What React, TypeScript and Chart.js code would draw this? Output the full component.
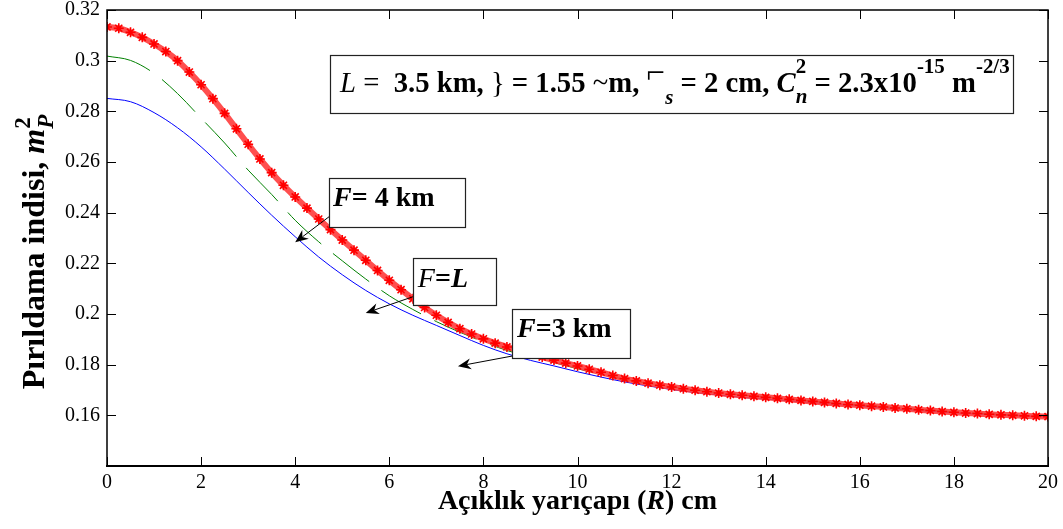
import React, { useEffect, useRef } from 'react';
import { Chart, registerables } from 'chart.js';

Chart.register(...registerables);

const SERIF = '"Liberation Serif", "Times New Roman", serif';

// x positions (cm)
const redX = [
  0, 0.25, 0.5, 0.75, 1, 1.25, 1.5, 1.75, 2, 2.25, 2.5, 2.75, 3, 3.25, 3.5, 3.75,
  4, 4.25, 4.5, 4.75, 5, 5.25, 5.5, 5.75, 6, 6.25, 6.5, 6.75, 7, 7.25, 7.5, 7.75,
  8, 8.25, 8.5, 8.75, 9, 9.25, 9.5, 9.75, 10, 10.25, 10.5, 10.75, 11, 11.25, 11.5, 11.75,
  12, 12.25, 12.5, 12.75, 13, 13.25, 13.5, 13.75, 14, 14.25, 14.5, 14.75, 15, 15.25, 15.5, 15.75,
  16, 16.25, 16.5, 16.75, 17, 17.25, 17.5, 17.75, 18, 18.25, 18.5, 18.75, 19, 19.25, 19.5, 19.75, 20,
];
const redY = [
  0.3133, 0.3128, 0.3112, 0.3092, 0.3066, 0.3036, 0.3000, 0.2955, 0.2905, 0.2850, 0.2792, 0.2731, 0.2670, 0.2612, 0.2558, 0.2508,
  0.2462, 0.2418, 0.2375, 0.2333, 0.2292, 0.2252, 0.2212, 0.2172, 0.2133, 0.2096, 0.2060, 0.2026, 0.1995, 0.1967, 0.1942, 0.1921,
  0.1902, 0.1885, 0.1870, 0.1856, 0.1842, 0.1830, 0.1818, 0.1806, 0.1795, 0.1782, 0.1770, 0.1757, 0.1745, 0.1736, 0.1727, 0.1719,
  0.1712, 0.1705, 0.1699, 0.1693, 0.1688, 0.1683, 0.1679, 0.1675, 0.1671, 0.1667, 0.1663, 0.1659, 0.1655, 0.1651, 0.1647, 0.1643,
  0.1640, 0.1636, 0.1633, 0.1629, 0.1626, 0.1622, 0.1619, 0.1615, 0.1612, 0.1609, 0.1607, 0.1604, 0.1602, 0.1600, 0.1598, 0.1596, 0.1595,
];

const lineX = [
  0, 0.5, 1, 1.5, 2, 2.5, 3, 3.5, 4, 4.5, 5, 5.5, 6, 6.5, 7, 7.5, 8, 8.5, 9, 9.5,
  10, 10.5, 11, 11.5, 12, 12.5, 13, 13.5, 14, 15, 16, 17, 18, 19, 20,
];
const greenY = [
  0.3018, 0.3001, 0.2950, 0.2870, 0.2773, 0.2675, 0.2568, 0.2472, 0.2370, 0.2285, 0.2210, 0.2138, 0.2072, 0.2018, 0.1970, 0.1928, 0.1890, 0.1856, 0.1830, 0.1808,
  0.1784, 0.1762, 0.1742, 0.1726, 0.1712, 0.1700, 0.1689, 0.1680, 0.1672, 0.1656, 0.1641, 0.1627, 0.1614, 0.1604, 0.1597,
];
const blueY = [
  0.2851, 0.2838, 0.2795, 0.2735, 0.2660, 0.2572, 0.2480, 0.2390, 0.2305, 0.2225, 0.2155, 0.2093, 0.2040, 0.1995, 0.1955, 0.1915, 0.1876, 0.1843, 0.1817, 0.1795,
  0.1772, 0.1751, 0.1732, 0.1716, 0.1702, 0.1690, 0.1680, 0.1671, 0.1664, 0.1650, 0.1636, 0.1622, 0.1610, 0.1601, 0.1594,
];

const xTicks = [0, 2, 4, 6, 8, 10, 12, 14, 16, 18, 20];
const yTicks = [0.14, 0.16, 0.18, 0.2, 0.22, 0.24, 0.26, 0.28, 0.3, 0.32];

type Seg = { t: string; style?: string; weight?: string; size: number; dy?: number; stack?: boolean };

const B = 'bold';
const I = 'italic';

const paramSegs: Seg[] = [
  { t: 'L', style: I, size: 26 },
  { t: ' =  ', size: 26 },
  { t: '3.5 km, ', weight: B, size: 26 },
  { t: '}', size: 26 },
  { t: ' = 1.55 ', weight: B, size: 26 },
  { t: '~', size: 26 },
  { t: 'm, ', weight: B, size: 26 },
  { t: '\u2310', size: 30, dy: -8 },
  { t: 's', style: I, weight: B, size: 19, dy: 11 },
  { t: ' = 2 cm, ', weight: B, size: 26 },
  { t: 'C', style: I, weight: B, size: 26 },
  { t: '2', weight: B, size: 19, dy: -17 },
  { t: 'n', style: I, weight: B, size: 19, dy: 10, stack: true },
  { t: ' = 2.3x10', weight: B, size: 26 },
  { t: '-15', weight: B, size: 19, dy: -17 },
  { t: ' m', weight: B, size: 26 },
  { t: '-2/3', weight: B, size: 19, dy: -17 },
];

const labelF4: Seg[] = [
  { t: 'F', style: I, weight: B, size: 28 },
  { t: '= 4 km', weight: B, size: 28 },
];
const labelFL: Seg[] = [
  { t: 'F', style: I, size: 28 },
  { t: '=', weight: B, size: 28 },
  { t: 'L', style: I, weight: B, size: 28 },
];
const labelF3: Seg[] = [
  { t: 'F', style: I, weight: B, size: 28 },
  { t: '=3 km', weight: B, size: 28 },
];

const xTitle: Seg[] = [
  { t: 'Açıklık yarıçapı (', weight: B, size: 28 },
  { t: 'R', style: I, weight: B, size: 28 },
  { t: ') cm', weight: B, size: 28 },
];
const yTitle: Seg[] = [
  { t: 'Pırıldama indisi, ', weight: B, size: 32 },
  { t: 'm', style: I, weight: B, size: 32 },
  { t: '2', weight: B, size: 23, dy: -14 },
  { t: 'P', style: I, weight: B, size: 23, dy: 9, stack: true },
];

// annotation boxes in data units: [x1, yTop, x2, yBottom], arrows [fromX, fromY, toX, toY]
const notes = [
  { segs: paramSegs, box: [4.74, 0.3022, 19.26, 0.2792], textDx: 10, textDy: 37, fitWidth: 670, arrow: null as number[] | null },
  { segs: labelF4, box: [4.72, 0.2535, 7.61, 0.2341], textDx: 4, textDy: 28, fitWidth: 0, arrow: [4.72, 0.2384, 4.0, 0.2283] },
  { segs: labelFL, box: [6.5, 0.2222, 8.27, 0.2036], textDx: 5, textDy: 29, fitWidth: 0, arrow: [6.5, 0.2068, 5.5, 0.2004] },
  { segs: labelF3, box: [8.61, 0.2020, 11.12, 0.1826], textDx: 5, textDy: 28, fitWidth: 0, arrow: [8.61, 0.1834, 7.46, 0.1794] },
];

function segFont(s: Seg, k = 1) {
  return `${s.style || 'normal'} ${s.weight || 'normal'} ${(s.size * k).toFixed(2)}px ${SERIF}`;
}

function measureRich(ctx: CanvasRenderingContext2D, segs: Seg[], k = 1) {
  let w = 0;
  let lastW = 0;
  for (const s of segs) {
    ctx.font = segFont(s, k);
    const m = ctx.measureText(s.t).width;
    if (s.stack) {
      if (m > lastW) {
        w += m - lastW;
        lastW = m;
      }
    } else {
      w += m;
      lastW = m;
    }
  }
  return w;
}

function drawRich(ctx: CanvasRenderingContext2D, segs: Seg[], x: number, y: number, k = 1) {
  let cx = x;
  let prevX = x;
  let prevW = 0;
  for (const s of segs) {
    ctx.font = segFont(s, k);
    const m = ctx.measureText(s.t).width;
    const dy = (s.dy || 0) * k;
    if (s.stack) {
      ctx.fillText(s.t, prevX, y + dy);
      if (m > prevW) {
        cx = prevX + m;
        prevW = m;
      }
    } else {
      ctx.fillText(s.t, cx, y + dy);
      prevX = cx;
      prevW = m;
      cx += m;
    }
  }
}

function drawArrow(ctx: CanvasRenderingContext2D, x1: number, y1: number, x2: number, y2: number) {
  const ang = Math.atan2(y2 - y1, x2 - x1);
  const len = 13;
  const hw = 5.5;
  const notch = 4;
  const bx = x2 - Math.cos(ang) * len;
  const by = y2 - Math.sin(ang) * len;
  const nx = x2 - Math.cos(ang) * (len - notch);
  const ny = y2 - Math.sin(ang) * (len - notch);
  const px = -Math.sin(ang);
  const py = Math.cos(ang);
  ctx.beginPath();
  ctx.moveTo(x1, y1);
  ctx.lineTo(nx, ny);
  ctx.lineWidth = 1;
  ctx.strokeStyle = '#000';
  ctx.stroke();
  ctx.beginPath();
  ctx.moveTo(x2, y2);
  ctx.lineTo(bx + px * hw, by + py * hw);
  ctx.lineTo(nx, ny);
  ctx.lineTo(bx - px * hw, by - py * hw);
  ctx.closePath();
  ctx.fillStyle = '#000';
  ctx.fill();
}

const decor = {
  id: 'decor',
  afterDraw(chart: any) {
    const ctx: CanvasRenderingContext2D = chart.ctx;
    const xs = chart.scales.x;
    const ys = chart.scales.y;
    const { left, right, top, bottom } = chart.chartArea;
    ctx.save();
    ctx.textAlign = 'left';
    ctx.textBaseline = 'alphabetic';

    // ticks (inside, on all four sides)
    ctx.strokeStyle = '#000';
    ctx.lineWidth = 1;
    ctx.beginPath();
    for (const v of xTicks) {
      const px = Math.round(xs.getPixelForValue(v)) + 0.5;
      ctx.moveTo(px, bottom);
      ctx.lineTo(px, bottom - 9);
      ctx.moveTo(px, top);
      ctx.lineTo(px, top + 9);
    }
    for (const v of yTicks) {
      const py = Math.round(ys.getPixelForValue(v)) + 0.5;
      ctx.moveTo(left, py);
      ctx.lineTo(left + 9, py);
      ctx.moveTo(right, py);
      ctx.lineTo(right - 9, py);
    }
    ctx.stroke();

    // frame
    ctx.lineWidth = 1.5;
    ctx.strokeRect(left, top, right - left, bottom - top);
    ctx.lineWidth = 2.2;
    ctx.beginPath();
    ctx.moveTo(left - 1, bottom);
    ctx.lineTo(right + 1, bottom);
    ctx.stroke();

    // annotations
    for (const n of notes) {
      const bx1 = xs.getPixelForValue(n.box[0]);
      const by1 = ys.getPixelForValue(n.box[1]);
      const bx2 = xs.getPixelForValue(n.box[2]);
      const by2 = ys.getPixelForValue(n.box[3]);
      ctx.fillStyle = '#fff';
      ctx.fillRect(bx1, by1, bx2 - bx1, by2 - by1);
      ctx.strokeStyle = '#222';
      ctx.lineWidth = 1.2;
      ctx.strokeRect(Math.round(bx1) + 0.5, Math.round(by1) + 0.5, Math.round(bx2 - bx1), Math.round(by2 - by1));
      let k = 1;
      if (n.fitWidth) {
        k = n.fitWidth / measureRich(ctx, n.segs, 1);
      }
      ctx.fillStyle = '#000';
      drawRich(ctx, n.segs, bx1 + n.textDx, by1 + n.textDy, k);
      if (n.arrow) {
        drawArrow(
          ctx,
          xs.getPixelForValue(n.arrow[0]),
          ys.getPixelForValue(n.arrow[1]),
          xs.getPixelForValue(n.arrow[2]),
          ys.getPixelForValue(n.arrow[3]),
        );
      }
    }

    // axis titles
    ctx.fillStyle = '#000';
    const xw = measureRich(ctx, xTitle);
    drawRich(ctx, xTitle, (left + right) / 2 - xw / 2, 509);

    const yw = measureRich(ctx, yTitle);
    ctx.save();
    ctx.translate(44, 252);
    ctx.rotate(-Math.PI / 2);
    drawRich(ctx, yTitle, -yw / 2, 0);
    ctx.restore();

    ctx.restore();
  },
};

export default function App() {
  const ref = useRef<HTMLCanvasElement>(null);

  useEffect(() => {
    const canvas = ref.current;
    if (!canvas) return;
    const chart = new Chart(canvas, {
      type: 'line',
      data: {
        datasets: [
          {
            label: 'red',
            data: redX.map((x, i) => ({ x, y: redY[i] })),
            borderColor: 'rgba(255,60,60,0.9)',
            borderWidth: 6,
            pointStyle: 'star',
            pointRadius: 5,
            pointBorderColor: '#ff0000',
            pointBackgroundColor: '#ff0000',
            pointBorderWidth: 1.6,
            cubicInterpolationMode: 'monotone',
            clip: 0,
          },
          {
            label: 'green',
            data: lineX.map((x, i) => ({ x, y: greenY[i] })),
            borderColor: '#008000',
            borderWidth: 1,
            borderDash: [46, 15],
            pointRadius: 0,
            cubicInterpolationMode: 'monotone',
            clip: 0,
          },
          {
            label: 'blue',
            data: lineX.map((x, i) => ({ x, y: blueY[i] })),
            borderColor: '#0000ff',
            borderWidth: 1,
            pointRadius: 0,
            cubicInterpolationMode: 'monotone',
            clip: 0,
          },
        ],
      },
      options: {
        responsive: false,
        animation: false,
        devicePixelRatio: 1,
        layout: { padding: { left: 0, right: 15, top: 10, bottom: 0 } },
        plugins: { legend: { display: false }, tooltip: { enabled: false } },
        scales: {
          x: {
            type: 'linear',
            min: 0,
            max: 20,
            grid: { display: false, drawTicks: false },
            border: { display: false },
            ticks: {
              stepSize: 2,
              padding: 5,
              color: '#000',
              font: { family: SERIF, size: 20 },
              maxRotation: 0,
              callback: (v: any) => String(Number(v)),
            },
            afterFit: (s: any) => {
              s.height = 63;
              s.paddingLeft = 0;
              s.paddingRight = 0;
            },
          },
          y: {
            type: 'linear',
            min: 0.14,
            max: 0.32,
            grid: { display: false, drawTicks: false },
            border: { display: false },
            ticks: {
              stepSize: 0.02,
              padding: 7,
              color: '#000',
              font: { family: SERIF, size: 20 },
              callback: (v: any) => {
                const n = Number(v);
                if (Math.abs(n - 0.14) < 1e-6) return '';
                return String(Number(n.toFixed(2)));
              },
            },
            afterFit: (s: any) => {
              s.width = 107;
              s.paddingTop = 0;
              s.paddingBottom = 0;
            },
          },
        },
      },
      plugins: [decor],
    } as any);
    return () => chart.destroy();
  }, []);

  return (
    <div style={{ position: 'fixed', left: 0, top: 0, width: 1063, height: 529, background: '#fff' }}>
      <canvas ref={ref} width={1063} height={529} style={{ width: 1063, height: 529, display: 'block' }} />
    </div>
  );
}
